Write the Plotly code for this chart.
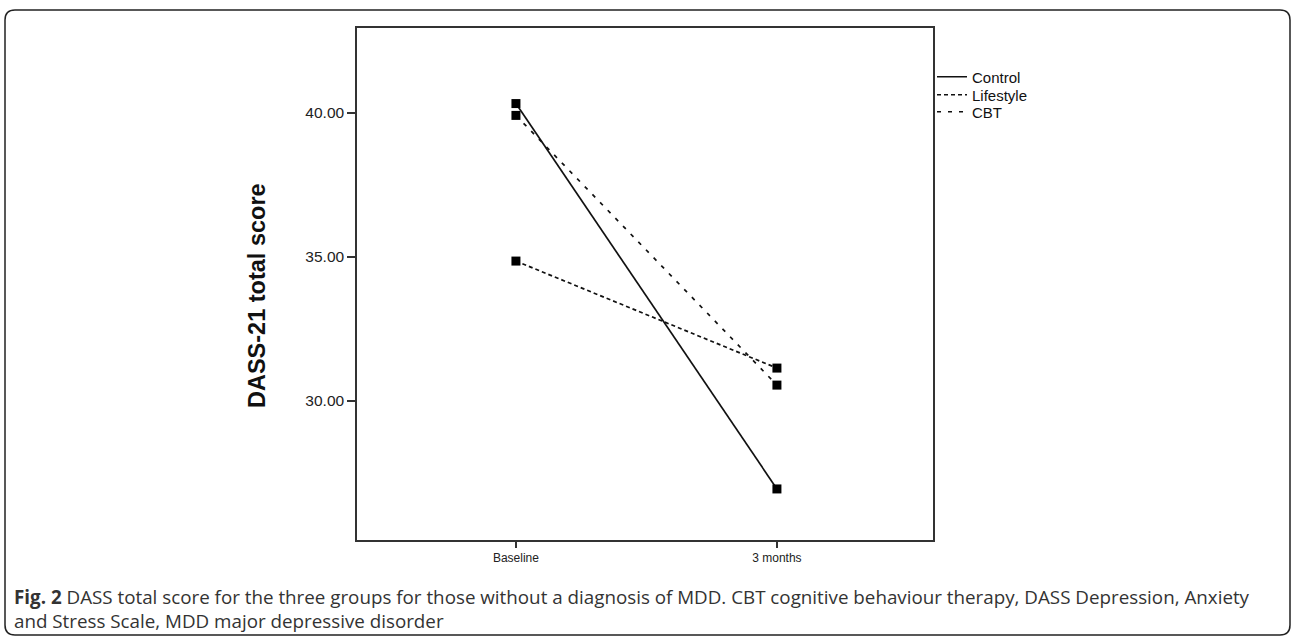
import plotly.graph_objects as go

# ---- data ----
timepoints = ["Baseline", "3 months"]
groups = ["Control", "Lifestyle", "CBT"]
control = [40.31, 26.95]
lifestyle = [34.85, 31.14]
cbt = [39.90, 30.55]
series = {"Control": control, "Lifestyle": lifestyle, "CBT": cbt}
y_ticks = [30.0, 35.0, 40.0]
y_tick_labels = ["30.00", "35.00", "40.00"]
y_title = "DASS-21 total score"
caption_1 = ("<b>Fig. 2</b> DASS total score for the three groups for those without a diagnosis of MDD. "
             "CBT cognitive behaviour therapy, DASS Depression, Anxiety")
caption_2 = "and Stress Scale, MDD major depressive disorder"

# ---- layout geometry (pixels) ----
W, H = 1295, 639
PL, PR, PT, PB = 357, 933, 28, 540


def px2x(px):
    return (px - PL) / (PR - PL)


def px2y(py):
    return (PB - py) / (PB - PT)


dashes = {"Control": "solid", "Lifestyle": "4px,3px", "CBT": "4px,7px"}
legend_ids = {"Control": "legend", "Lifestyle": "legend2", "CBT": "legend3"}
legend_rows = {"legend": 77, "legend2": 95, "legend3": 112}

fig = go.Figure()
for g in groups:
    fig.add_trace(go.Scatter(
        x=timepoints, y=series[g], mode="lines", name=g, legend=legend_ids[g],
        line=dict(color="#111111", width=1.7, dash=dashes[g]),
        hoverinfo="skip"))
for g in groups:
    fig.add_trace(go.Scatter(
        x=timepoints, y=series[g], mode="markers", name=g, showlegend=False,
        marker=dict(symbol="square", size=9, color="#000000",
                    line=dict(width=0))))

axis_common = dict(showline=True, linecolor="#333333", linewidth=1.5,
                   mirror=True, showgrid=False, zeroline=False,
                   ticks="outside", tickcolor="#333333", tickwidth=1.5)

fig.update_xaxes(type="category", range=[-0.609, 1.598], ticklen=6,
                 tickfont=dict(family="Liberation Sans", size=12, color="#222222"),
                 **axis_common)
fig.update_yaxes(range=[25.18, 42.93], tickvals=y_ticks, ticktext=y_tick_labels,
                 ticklen=8,
                 tickfont=dict(family="Liberation Sans", size=15.5, color="#222222"),
                 **axis_common)

# outer rounded frame
r = 10
x0, x1, y0, y1 = 5, 1290, 10, 635
rx = r / (PR - PL)
ry = r / (PB - PT)
X0, X1 = px2x(x0), px2x(x1)
Yt, Yb = px2y(y0), px2y(y1)
path = (f"M {X0+rx},{Yt} L {X1-rx},{Yt} Q {X1},{Yt} {X1},{Yt-ry} "
        f"L {X1},{Yb+ry} Q {X1},{Yb} {X1-rx},{Yb} "
        f"L {X0+rx},{Yb} Q {X0},{Yb} {X0},{Yb+ry} "
        f"L {X0},{Yt-ry} Q {X0},{Yt} {X0+rx},{Yt} Z")
fig.add_shape(type="path", xref="paper", yref="paper", path=path,
              line=dict(color="#222222", width=1.5), layer="below")

fig.add_annotation(text=f"<b>{y_title}</b>", textangle=-90, xref="paper", yref="paper",
                   x=px2x(257), y=px2y(296), xanchor="center", yanchor="middle",
                   showarrow=False,
                   font=dict(family="Liberation Sans", size=23.5, color="#111111"))
fig.add_annotation(text=caption_1, xref="paper", yref="paper",
                   x=px2x(12), y=px2y(597), xanchor="left", yanchor="middle",
                   showarrow=False,
                   font=dict(family="Open Sans", size=18.8, color="#333333"))
fig.add_annotation(text=caption_2, xref="paper", yref="paper",
                   x=px2x(12), y=px2y(621), xanchor="left", yanchor="middle",
                   showarrow=False,
                   font=dict(family="Open Sans", size=18.8, color="#333333"))

legend_style = dict(xanchor="left", yanchor="middle", itemwidth=30,
                    bgcolor="rgba(0,0,0,0)", borderwidth=0,
                    font=dict(family="Liberation Sans", size=15, color="#111111"))
legends = {lid: dict(x=px2x(932), y=px2y(row), **legend_style)
           for lid, row in legend_rows.items()}

fig.update_layout(
    width=W, height=H,
    margin=dict(l=PL, r=W - PR, t=PT, b=H - PB),
    paper_bgcolor="white", plot_bgcolor="white",
    showlegend=True,
    **legends,
)

fig.write_html("out.html", config={"displayModeBar": False})

# remove default page margins so the figure sits at the window origin
with open("out.html", "r", encoding="utf-8") as f:
    html = f.read()
html = html.replace("<head>", "<head><style>html,body{margin:0;padding:0;overflow:hidden;}</style>", 1)
with open("out.html", "w", encoding="utf-8") as f:
    f.write(html)
